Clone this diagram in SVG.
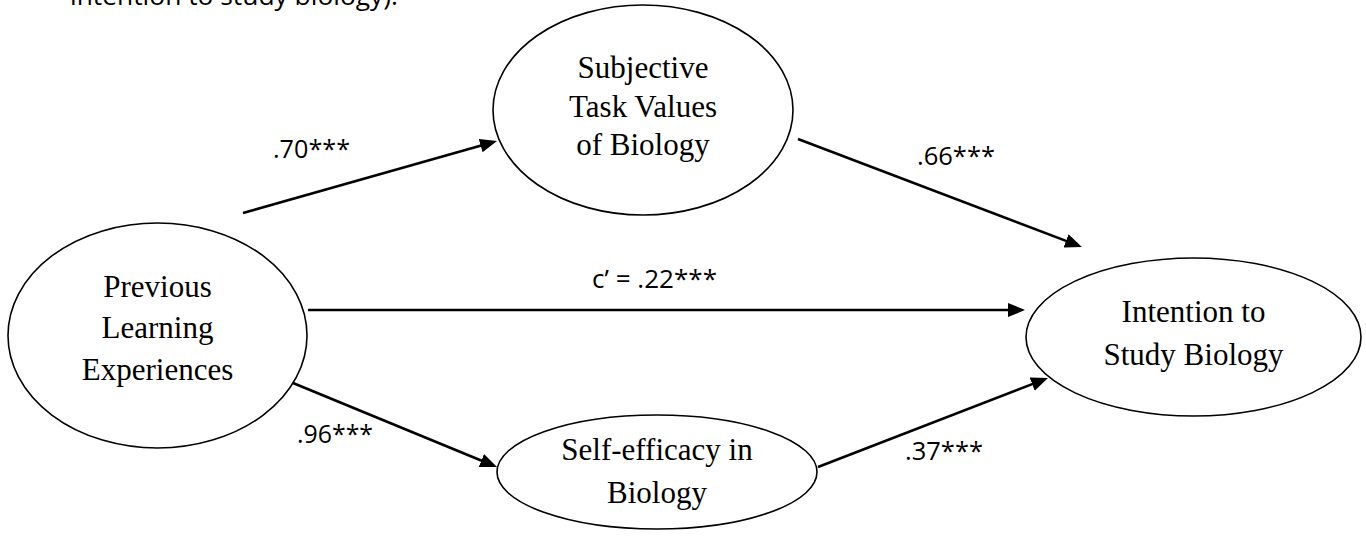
<svg xmlns="http://www.w3.org/2000/svg" width="1366" height="546" viewBox="0 0 1366 546">
  <style>
    .node ellipse { fill: #ffffff; stroke: #000000; stroke-width: 1.6; }
    .node text { font-family: "Liberation Serif", "Times New Roman", serif; font-size: 31px; fill: #000000; text-anchor: middle; }
    .edge line { stroke: #000000; stroke-width: 2.6; marker-end: url(#arrow); }
    .coef { font-family: "Open Sans", "DejaVu Sans", sans-serif; font-size: 25px; fill: #000000; }
    .caption { font-family: "Open Sans", "DejaVu Sans", sans-serif; font-size: 26px; fill: #000000; }
  </style>
  <defs>
    <marker id="arrow" markerUnits="userSpaceOnUse" markerWidth="18" markerHeight="15" refX="7" refY="7" orient="auto">
      <path d="M0,0 L17,7 L0,14 z" fill="#000000"/>
    </marker>
  </defs>
  <rect width="1366" height="546" fill="#ffffff"/>

  <!-- caption line carried over from the page above -->
  <text class="caption" x="70" y="5" textLength="328" lengthAdjust="spacingAndGlyphs">intention to study biology).</text>

  <!-- paths between constructs -->
  <g id="connectors" class="edge">
    <line x1="243" y1="213" x2="487.4" y2="143.7"/>
    <line x1="798" y1="139" x2="1072.6" y2="243.4"/>
    <line x1="308" y1="310" x2="1015" y2="310"/>
    <line x1="293" y1="383" x2="487.8" y2="463.2"/>
    <line x1="818" y1="467" x2="1038.7" y2="381.6"/>
  </g>

  <!-- path coefficients -->
  <g id="coefficients">
    <text class="coef" x="273" y="158" textLength="77" lengthAdjust="spacingAndGlyphs">.70***</text>
    <text class="coef" x="917" y="165" textLength="78" lengthAdjust="spacingAndGlyphs">.66***</text>
    <text class="coef" x="592" y="288" textLength="125" lengthAdjust="spacingAndGlyphs">c’ = .22***</text>
    <text class="coef" x="297" y="443" textLength="76" lengthAdjust="spacingAndGlyphs">.96***</text>
    <text class="coef" x="905" y="460" textLength="78" lengthAdjust="spacingAndGlyphs">.37***</text>
  </g>

  <g id="node-values" class="node">
    <ellipse cx="643" cy="110" rx="150" ry="105"/>
    <text x="643" y="78">Subjective</text>
    <text x="643" y="117">Task Values</text>
    <text x="643" y="155">of Biology</text>
  </g>

  <g id="node-experiences" class="node">
    <ellipse cx="157.5" cy="335.5" rx="149.5" ry="112.5"/>
    <text x="157.5" y="297">Previous</text>
    <text x="157.5" y="338">Learning</text>
    <text x="157.5" y="380">Experiences</text>
  </g>

  <g id="node-intention" class="node">
    <ellipse cx="1193.5" cy="337" rx="167.5" ry="79"/>
    <text x="1193.5" y="322">Intention to</text>
    <text x="1193.5" y="365">Study Biology</text>
  </g>

  <g id="node-efficacy" class="node">
    <ellipse cx="657" cy="472" rx="160" ry="57"/>
    <text x="657" y="460">Self-efficacy in</text>
    <text x="657" y="503">Biology</text>
  </g>
</svg>
